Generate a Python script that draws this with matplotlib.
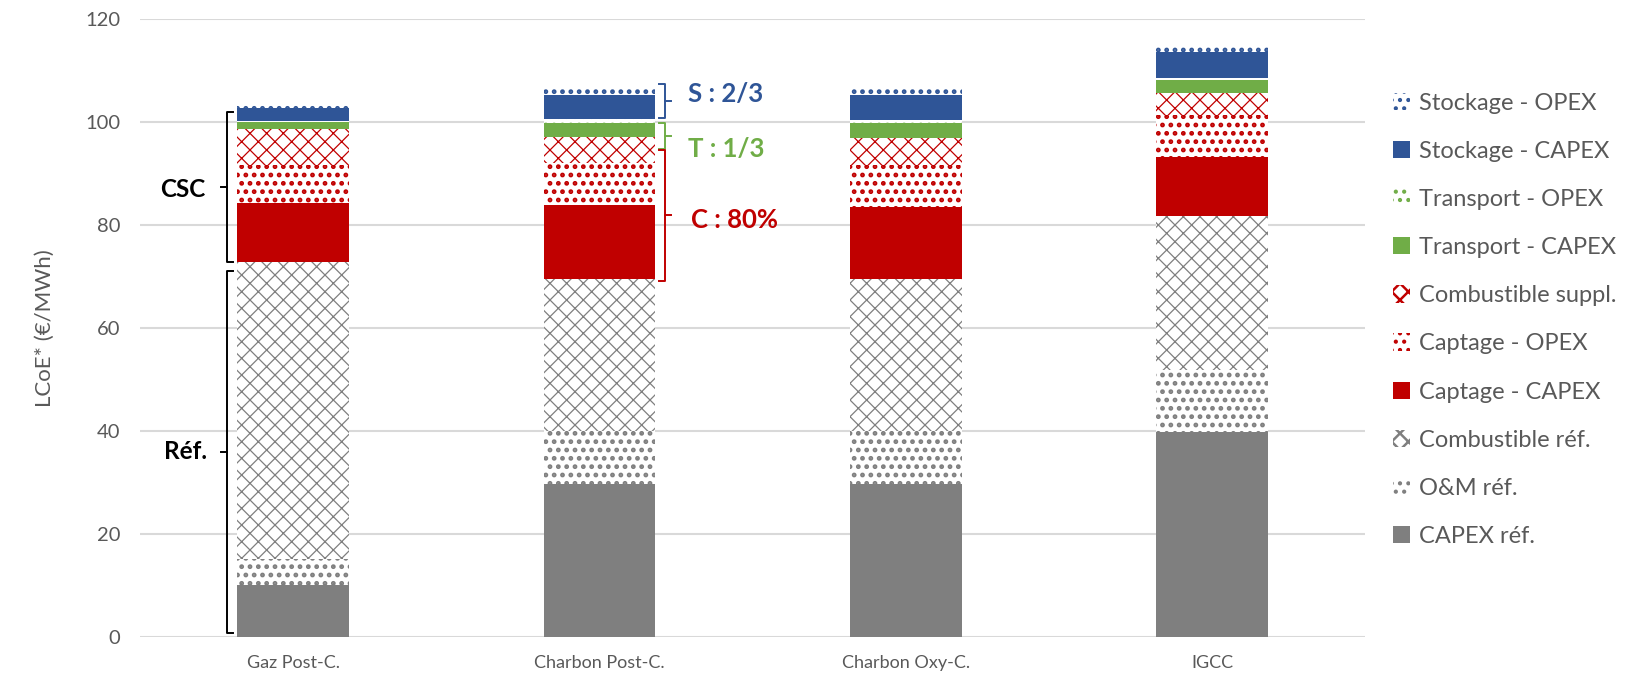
import matplotlib
matplotlib.use('Agg')
import matplotlib.pyplot as plt
import numpy as np

plt.rcParams['font.family'] = ['Lato', 'DejaVu Sans']

categories = ['Gaz Post-C.', 'Charbon Post-C.', 'Charbon Oxy-C.', 'IGCC']

# LCoE components, EUR/MWh
capex_ref = [10.0, 29.6, 29.6, 39.7]
om_ref = [5.0, 10.3, 10.3, 12.0]
comb_ref = [57.8, 29.5, 29.5, 30.0]
capt_capex = [11.4, 14.4, 14.1, 11.5]
capt_opex = [7.4, 8.1, 8.2, 8.1]
comb_suppl = [7.0, 5.2, 5.2, 4.2]
transp_capex = [1.4, 2.6, 2.9, 2.6]
transp_opex = [0.2, 0.8, 0.5, 0.5]
stock_capex = [2.4, 4.7, 4.9, 5.0]
stock_opex = [0.7, 1.6, 1.6, 1.3]

GREY = '#7F7F7F'
RED = '#C00000'
GREEN = '#70AD47'
BLUE = '#2F5597'
TXT = '#595959'

series = [
    ('CAPEX réf.', capex_ref, GREY, None),
    ('O&M réf.', om_ref, GREY, '..'),
    ('Combustible réf.', comb_ref, GREY, 'xx'),
    ('Captage - CAPEX', capt_capex, RED, None),
    ('Captage - OPEX', capt_opex, RED, '..'),
    ('Combustible suppl.', comb_suppl, RED, 'xx'),
    ('Transport - CAPEX', transp_capex, GREEN, None),
    ('Transport - OPEX', transp_opex, GREEN, '..'),
    ('Stockage - CAPEX', stock_capex, BLUE, None),
    ('Stockage - OPEX', stock_opex, BLUE, '..'),
]

fig = plt.figure(figsize=(16.36, 6.78), dpi=100)
ax = fig.add_axes([0.0856, 0.0612, 0.749, 0.911])

x = np.arange(len(categories))
w = 0.365
bottom = np.zeros(len(categories))
handles = []
for name, vals, col, hatch in series:
    vals = np.array(vals)
    if hatch is None:
        b = ax.bar(x, vals, w, bottom=bottom, color=col, linewidth=0, label=name, zorder=2)
    else:
        b = ax.bar(x, vals, w, bottom=bottom, facecolor='white', edgecolor=col,
                   hatch=hatch, linewidth=0, label=name, zorder=2)
        for p in b:
            try:
                p.set_hatch_linewidth(2.2 if hatch == '..' else 0.9)
            except AttributeError:
                pass
    handles.append(b)
    bottom += vals

ax.set_xlim(-0.5, 3.5)
ax.set_ylim(0, 120)
ax.set_yticks(range(0, 121, 20))
ax.set_xticks(x)
ax.set_xticklabels(categories)
ax.tick_params(length=0, labelsize=13, colors=TXT, pad=13)
ax.tick_params(axis='y', pad=14, labelsize=14.5)
for s in ax.spines.values():
    s.set_visible(False)
ax.grid(axis='y', color='#D9D9D9', linewidth=1.5, zorder=0)
ax.set_axisbelow(True)
ax.set_ylabel('LCoE* (€/MWh)', fontsize=16, color=TXT, labelpad=22)

leg = ax.legend(handles[::-1], [s[0] for s in series][::-1], loc='upper left',
                bbox_to_anchor=(1.005, 0.915), frameon=False, fontsize=17,
                labelcolor=TXT, handlelength=0.75, handleheight=0.75,
                handletextpad=0.35, labelspacing=1.15)
for h in leg.legend_handles:
    try:
        h.set_hatch_linewidth(1.8)
    except AttributeError:
        pass


def brace(x0, y0, y1, d, color, mid_dir):
    # vertical brace with end ticks towards the bar and a middle tick outward
    ym = (y0 + y1) / 2
    kw = dict(color=color, linewidth=1.4, clip_on=False, zorder=3)
    ax.plot([x0 + d, x0, x0, x0 + d], [y0, y0, y1, y1], **kw)
    ax.plot([x0, x0 + mid_dir * abs(d)], [ym, ym], **kw)
    return ym


brace(-0.215, 101.9, 72.8, 0.02, 'black', -1)
brace(-0.215, 71.0, 0.6, 0.02, 'black', -1)
ax.text(-0.36, 86.8, 'CSC', fontsize=17.5, fontweight='bold', ha='center', va='center')
ax.text(-0.35, 35.9, 'Réf.', fontsize=17.5, fontweight='bold', ha='center', va='center')

brace(1.2125, 107.3, 100.7, -0.02, BLUE, 1)
brace(1.2125, 99.7, 94.8, -0.02, GREEN, 1)
brace(1.2125, 94.6, 69.1, -0.02, RED, 1)
ax.text(1.29, 105.4, 'S : 2/3', fontsize=18.5, fontweight='bold', color=BLUE, va='center')
ax.text(1.29, 94.8, 'T : 1/3', fontsize=18.5, fontweight='bold', color=GREEN, va='center')
ax.text(1.30, 81.0, 'C : 80%', fontsize=18.5, fontweight='bold', color=RED, va='center')

fig.savefig('out.png', dpi=100)
